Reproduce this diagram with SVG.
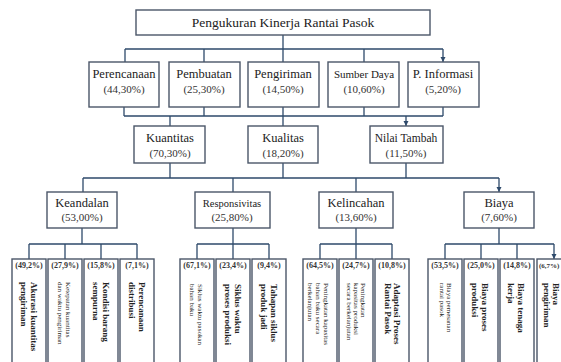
<svg xmlns="http://www.w3.org/2000/svg" width="561" height="362" viewBox="0 0 561 362" font-family="'Liberation Serif', 'DejaVu Serif', serif">
<defs>
<marker id="ah" markerWidth="6" markerHeight="6" refX="5" refY="3" orient="auto" markerUnits="userSpaceOnUse"><path d="M0,0.5 L5,3 L0,5.5 Z" fill="#2e4a6b"/></marker>
</defs>
<style>
.box{fill:#fff;stroke:#4a5668;stroke-width:1.4}
.ln{fill:none;stroke:#2e4a6b;stroke-width:1.3}
.ar{fill:none;stroke:#2e4a6b;stroke-width:1.3;marker-end:url(#ah)}
text{font-family:'Liberation Serif','DejaVu Serif',serif;fill:#222}
.t{font-size:12.5px;text-anchor:middle}
.p{font-size:11px;text-anchor:middle;fill:#333}
.pc{font-size:8px;font-weight:bold;text-anchor:middle;fill:#333}
.v{font-size:9px;font-weight:bold}
.s{font-size:7px}
</style>
<rect width="561" height="362" fill="#fff"/>
<g id="connectors">
<path class="ln" d="M283,35 V49 M125,49 H443"/>
<path class="ar" d="M125,49 V62 M204,49 V62 M283,49 V62 M364,49 V62 M443,49 V62"/>
<path class="ln" d="M124,107 V116 M204,107 V116 M283,107 V116 M364,107 V116 M443,107 V116 M124,116 H443"/>
<path class="ar" d="M170,116 V126 M283,116 V126 M406,116 V126"/>
<path class="ln" d="M170,163 V178 M283,163 V178 M406,163 V178 M83,178 H499"/>
<path class="ar" d="M83,178 V192 M233,178 V192 M356,178 V192 M499,178 V192"/>
<path class="ln" d="M82,228 V244 M233,228 V244 M356,228 V244 M499,228 V244 M29,244 H137 M197,244 H269 M320,244 H392 M445,244 H554"/>
<path class="ar" d="M29,244 V259 M65,244 V259 M101,244 V259 M137,244 V259 M197,244 V259 M233,244 V259 M269,244 V259 M320,244 V259 M356,244 V259 M392,244 V259 M445,244 V259 M481,244 V259 M517,244 V259 M554,244 V259"/>
</g>
<g id="root"><rect class="box" x="136" y="10" width="294" height="25"/><text class="t" x="283" y="27" style="font-size:13.5px">Pengukuran Kinerja Rantai Pasok</text></g>
<g id="perencanaan"><rect class="box" x="89" y="62" width="70" height="45"/><text class="t" x="124" y="78">Perencanaan</text><text class="p" x="124" y="93">(44,30%)</text></g>
<g id="pembuatan"><rect class="box" x="169" y="62" width="71" height="45"/><text class="t" x="204" y="78">Pembuatan</text><text class="p" x="204" y="93">(25,30%)</text></g>
<g id="pengiriman"><rect class="box" x="248" y="62" width="71" height="45"/><text class="t" x="283" y="78">Pengiriman</text><text class="p" x="283" y="93">(14,50%)</text></g>
<g id="sumberdaya"><rect class="box" x="328" y="62" width="71" height="45"/><text class="t" x="364" y="78" style="font-size:11px">Sumber Daya</text><text class="p" x="364" y="93">(10,60%)</text></g>
<g id="pinformasi"><rect class="box" x="408" y="62" width="71" height="45"/><text class="t" x="443" y="78">P. Informasi</text><text class="p" x="443" y="93">(5,20%)</text></g>
<g id="kuantitas"><rect class="box" x="134" y="126" width="71" height="37"/><text class="t" x="170" y="142">Kuantitas</text><text class="p" x="170" y="157">(70,30%)</text></g>
<g id="kualitas"><rect class="box" x="248" y="126" width="70" height="37"/><text class="t" x="283" y="142">Kualitas</text><text class="p" x="283" y="157">(18,20%)</text></g>
<g id="nilaitambah"><rect class="box" x="370" y="126" width="73" height="37"/><text class="t" x="406" y="142" style="font-size:11.5px">Nilai Tambah</text><text class="p" x="406" y="157">(11,50%)</text></g>
<g id="keandalan"><rect class="box" x="47" y="192" width="70" height="36"/><text class="t" x="82" y="207">Keandalan</text><text class="p" x="82" y="221">(53,00%)</text></g>
<g id="responsivitas"><rect class="box" x="195" y="192" width="75" height="36"/><text class="t" x="232" y="207" style="font-size:10.5px">Responsivitas</text><text class="p" x="232" y="221">(25,80%)</text></g>
<g id="kelincahan"><rect class="box" x="319" y="192" width="74" height="36"/><text class="t" x="356" y="207">Kelincahan</text><text class="p" x="356" y="221">(13,60%)</text></g>
<g id="biaya"><rect class="box" x="464" y="192" width="70" height="36"/><text class="t" x="499" y="207">Biaya</text><text class="p" x="499" y="221">(7,60%)</text></g>
<g id="k1"><rect class="box" x="12" y="259" width="34" height="110"/><text class="pc" x="29" y="268">(49,2%)</text><text class="v" transform="translate(31,282) rotate(90)">Akurasi kuantitas</text><text class="v" transform="translate(21,282) rotate(90)">pengiriman</text></g>
<g id="k2"><rect class="box" x="48" y="259" width="34" height="110"/><text class="pc" x="65" y="268">(27,9%)</text><text class="s" transform="translate(66,282) rotate(90)">Ketepatan kuantitas</text><text class="s" transform="translate(58,282) rotate(90)">dan waktu pengiriman</text></g>
<g id="k3"><rect class="box" x="84" y="259" width="34" height="110"/><text class="pc" x="101" y="268">(15,8%)</text><text class="v" transform="translate(103,282) rotate(90)">Kondisi barang</text><text class="v" transform="translate(93,282) rotate(90)">sempurna</text></g>
<g id="k4"><rect class="box" x="120" y="259" width="34" height="110"/><text class="pc" x="137" y="268">(7,1%)</text><text class="v" transform="translate(139,282) rotate(90)">Perencanaan</text><text class="v" transform="translate(129,282) rotate(90)">distribusi</text></g>
<g id="r1"><rect class="box" x="180" y="259" width="34" height="110"/><text class="pc" x="197" y="268">(67,1%)</text><text class="s" transform="translate(198,284) rotate(90)">Siklus waktu pasokan</text><text class="s" transform="translate(190,284) rotate(90)">bahan baku</text></g>
<g id="r2"><rect class="box" x="216" y="259" width="34" height="110"/><text class="pc" x="233" y="268">(23,4%)</text><text class="v" transform="translate(235,284) rotate(90)">Siklus waktu</text><text class="v" transform="translate(225,284) rotate(90)">proses produksi</text></g>
<g id="r3"><rect class="box" x="252" y="259" width="34" height="110"/><text class="pc" x="269" y="268">(9,4%)</text><text class="v" transform="translate(271,284) rotate(90)">Tahapan siklus</text><text class="v" transform="translate(261,284) rotate(90)">produk jadi</text></g>
<g id="l1"><rect class="box" x="303" y="259" width="34" height="110"/><text class="pc" x="320" y="268">(64,5%)</text><text class="s" transform="translate(324,283) rotate(90)">Peningkatan kapasitas</text><text class="s" transform="translate(316,283) rotate(90)">bahan baku secara</text><text class="s" transform="translate(308,283) rotate(90)">berkelanjutan</text></g>
<g id="l2"><rect class="box" x="339" y="259" width="34" height="110"/><text class="pc" x="356" y="268">(24,7%)</text><text class="s" transform="translate(361,283) rotate(90)">Peningkatan</text><text class="s" transform="translate(354,283) rotate(90)">kapasitas produksi</text><text class="s" transform="translate(347,283) rotate(90)">secara berkelanjutan</text></g>
<g id="l3"><rect class="box" x="375" y="259" width="34" height="110"/><text class="pc" x="392" y="268">(10,8%)</text><text class="v" transform="translate(394,283) rotate(90)">Adaptasi Proses</text><text class="v" transform="translate(385,283) rotate(90)">Rantai Pasok</text></g>
<g id="b1"><rect class="box" x="428" y="259" width="34" height="110"/><text class="pc" x="445" y="268">(53,5%)</text><text class="s" transform="translate(447,283) rotate(90)">Biaya pemesanan</text><text class="s" transform="translate(440,283) rotate(90)">rantai pasok</text></g>
<g id="b2"><rect class="box" x="464" y="259" width="34" height="110"/><text class="pc" x="481" y="268">(25,0%)</text><text class="v" transform="translate(482,283) rotate(90)">Biaya proses</text><text class="v" transform="translate(472,283) rotate(90)">produksi</text></g>
<g id="b3"><rect class="box" x="500" y="259" width="34" height="110"/><text class="pc" x="517" y="268">(14,8%)</text><text class="v" transform="translate(518,283) rotate(90)">Biaya tenaga</text><text class="v" transform="translate(508,283) rotate(90)">kerja</text></g>
<g id="b4"><rect class="box" x="537" y="259" width="34" height="110"/><text class="pc" x="539" y="268" style="text-anchor:start;font-size:7px">(6,7%)</text><text class="v" transform="translate(553,283) rotate(90)">Biaya</text><text class="v" transform="translate(544,283) rotate(90)">pengiriman</text></g>
</svg>
